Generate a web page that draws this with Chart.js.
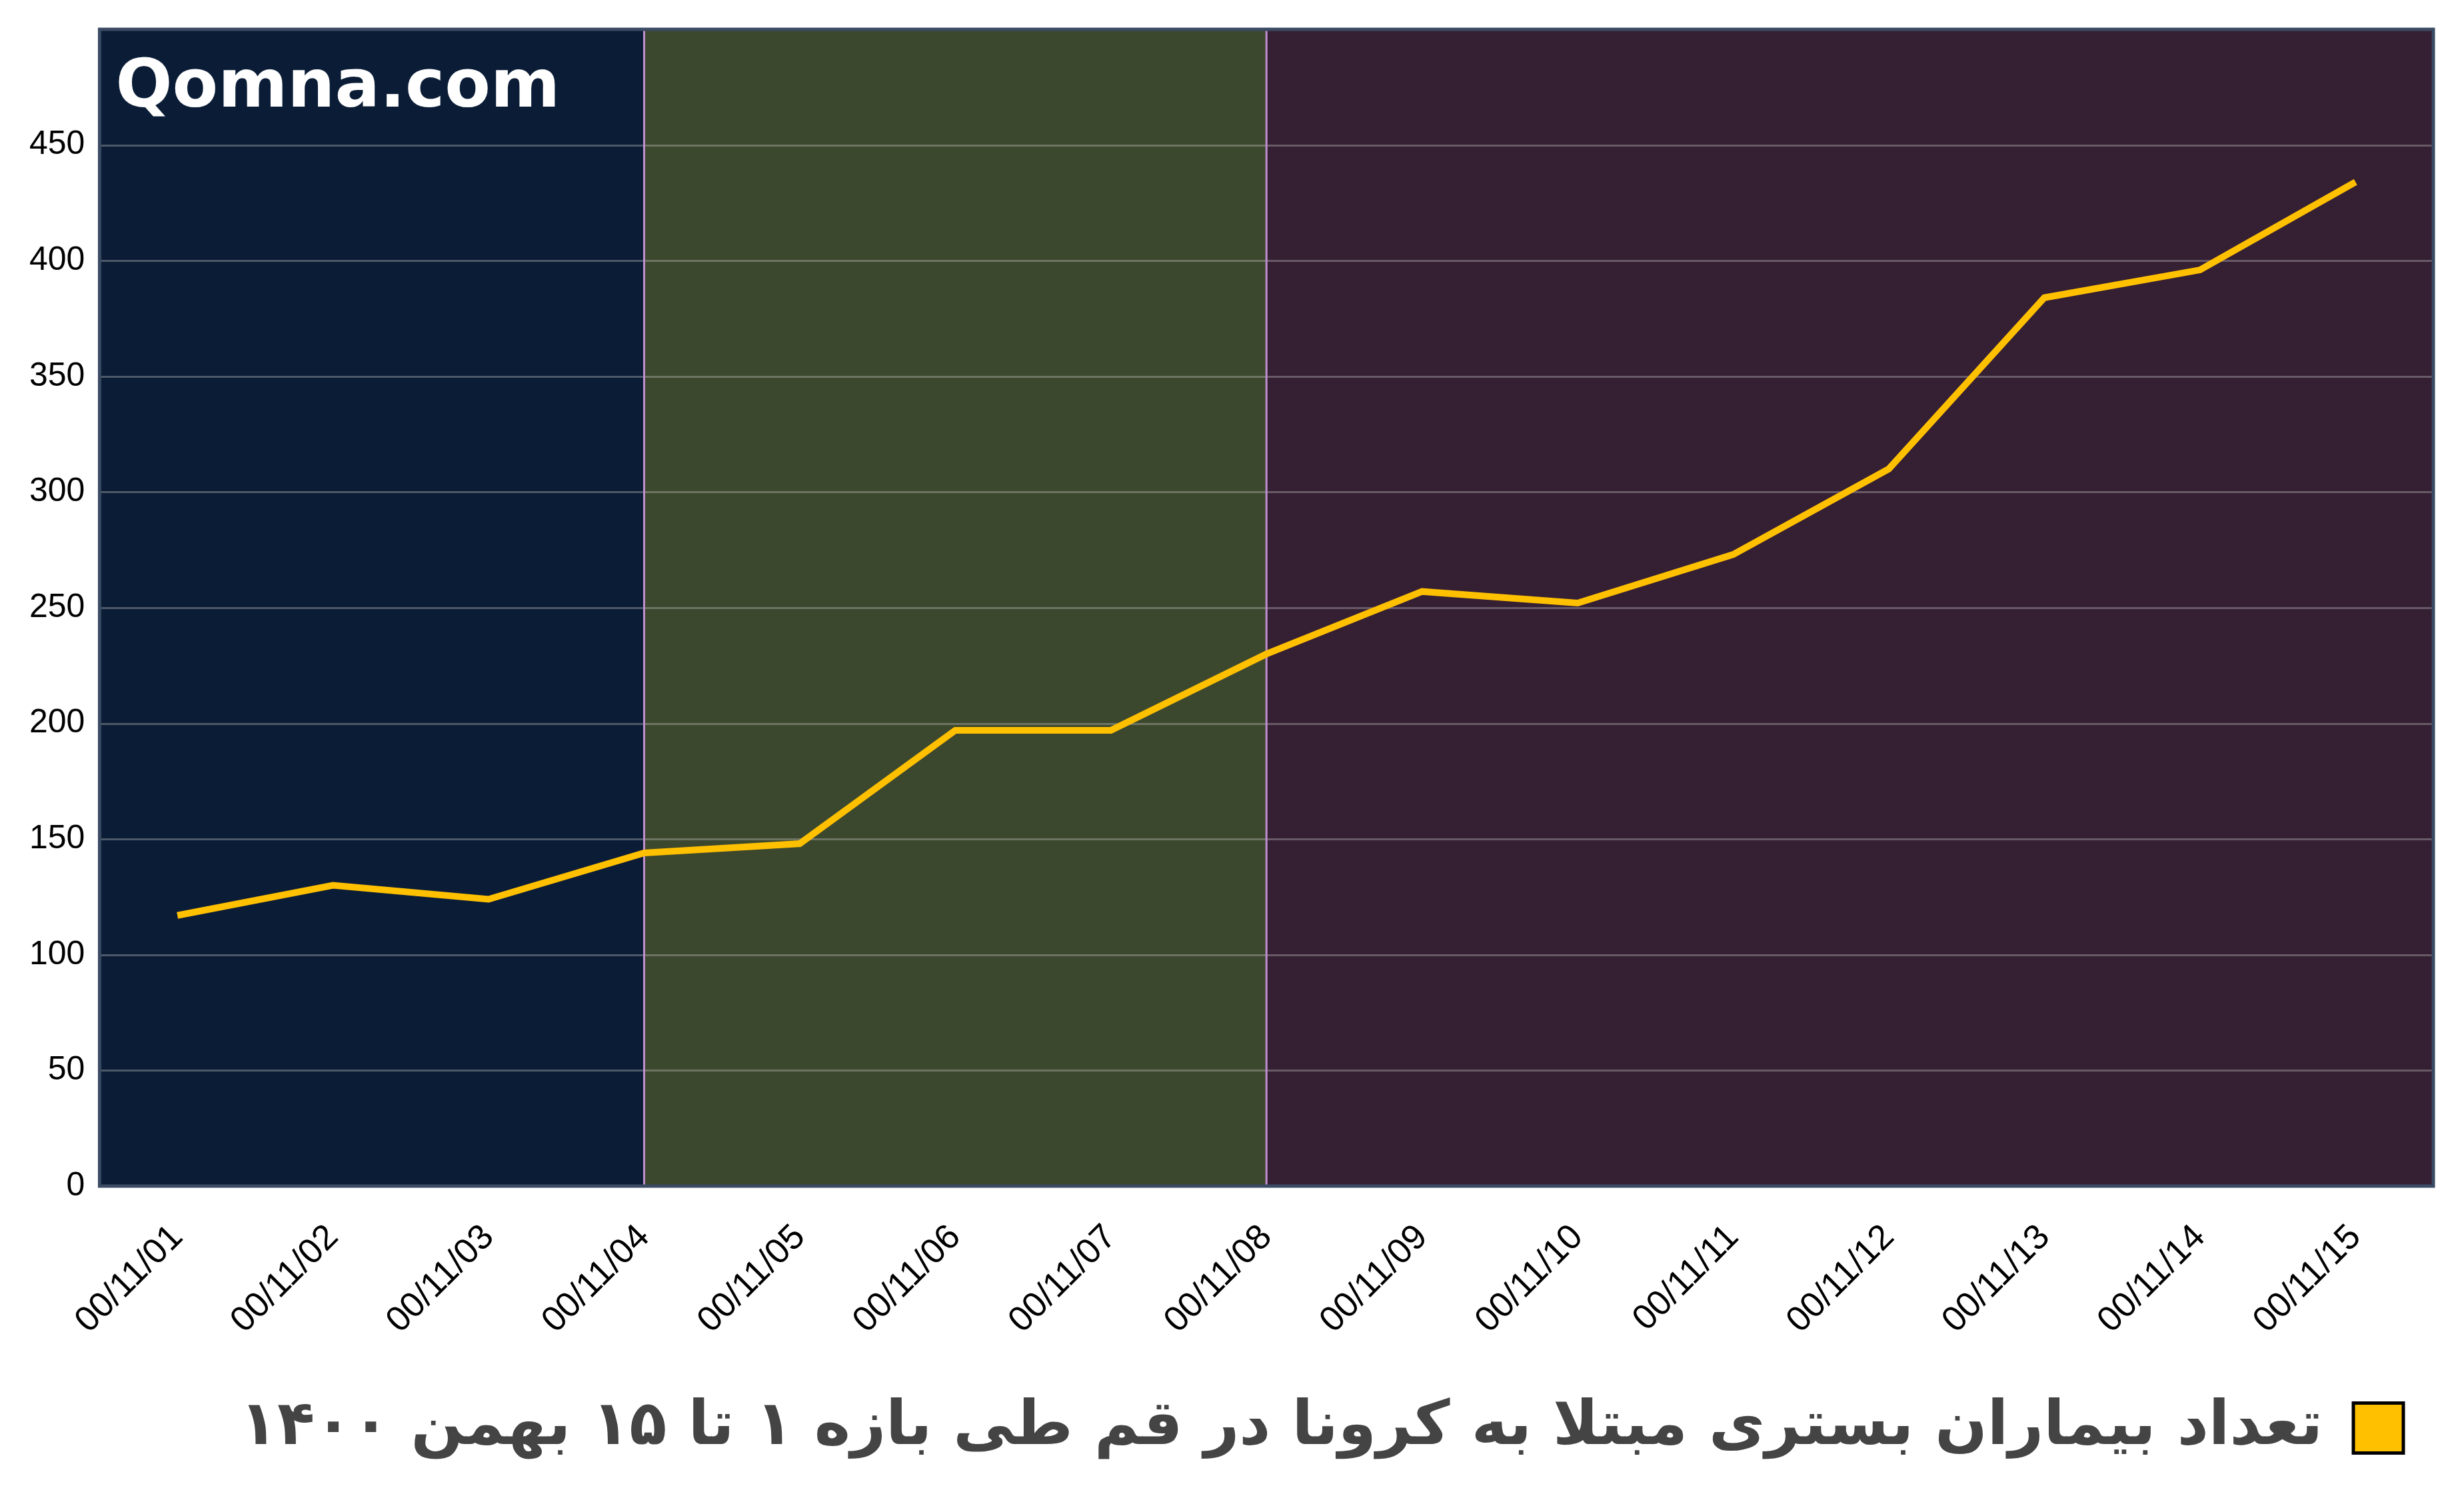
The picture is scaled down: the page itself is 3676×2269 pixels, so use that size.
<!DOCTYPE html>
<html>
<head>
<meta charset="utf-8">
<script src="https://cdn.jsdelivr.net/npm/chart.js@4"></script>
<style>
  html, body { margin: 0; padding: 0; background: #fff; }
  #wrap { width: 3676px; height: 2269px; }
</style>
</head>
<body>
<div id="wrap"><canvas id="chartCanvas" width="3676" height="2269"></canvas></div>
<script>
// data
const dates = ['00/11/01','00/11/02','00/11/03','00/11/04','00/11/05','00/11/06','00/11/07','00/11/08',
               '00/11/09','00/11/10','00/11/11','00/11/12','00/11/13','00/11/14','00/11/15'];
const patients = [117, 130, 124, 144, 148, 197, 197, 230, 257, 252, 273, 310, 384, 396, 434];
const seriesLabel = 'تعداد بیماران بستری مبتلا به کرونا در قم طی بازه ۱ تا ۱۵ بهمن ۱۴۰۰';

// band boundaries (category indexes) and colours
const bandEdges = [3, 7];
const bandColors = ['#0b1d36', '#3c482d', '#352033'];

// _+_+_+_ background bands + watermark _+_+_+_
const bandsPlugin = {
    id: 'bands',
    beforeDatasetsDraw(chart) {
        const { ctx, chartArea: a, scales: { x } } = chart;
        const edges = [a.left, ...bandEdges.map(i => x.getPixelForValue(i)), a.right];
        ctx.save();
        for (let i = 0; i < bandColors.length; i++) {
            ctx.fillStyle = bandColors[i];
            ctx.fillRect(edges[i], a.top, edges[i + 1] - edges[i], a.bottom - a.top);
        }
        // grid lines over the bands
        const y = chart.scales.y;
        ctx.strokeStyle = 'rgba(200,200,200,0.35)';
        ctx.lineWidth = 3;
        y.ticks.forEach(t => {
            const py = Math.round(y.getPixelForValue(t.value)) + 0.5;
            ctx.beginPath(); ctx.moveTo(a.left, py); ctx.lineTo(a.right, py); ctx.stroke();
        });
        // divider lines
        ctx.strokeStyle = '#c28fd0';
        ctx.lineWidth = 3;
        bandEdges.forEach(i => {
            const px = x.getPixelForValue(i);
            ctx.beginPath(); ctx.moveTo(px, a.top); ctx.lineTo(px, a.bottom); ctx.stroke();
        });
        // border
        ctx.strokeStyle = '#3a4a63';
        ctx.lineWidth = 5;
        ctx.strokeRect(a.left, a.top, a.right - a.left, a.bottom - a.top);
        // watermark
        ctx.fillStyle = '#ffffff';
        ctx.font = 'bold 100px "DejaVu Sans"';
        ctx.textBaseline = 'top';
        ctx.fillText('Qomna.com', a.left + 24, a.top + 40);
        ctx.restore();
    }
};

new Chart(document.getElementById('chartCanvas'), {
    type: 'line',
    data: {
        labels: dates,
        datasets: [{
            label: seriesLabel,
            data: patients,
            borderColor: '#ffc000',
            backgroundColor: '#ffc000',
            borderWidth: 10,
            pointRadius: 0,
            tension: 0,
            fill: false
        }]
    },
    options: {
        responsive: false,
        animation: false,
        devicePixelRatio: 1,
        layout: { padding: { left: 30, right: 25, top: 10, bottom: 70 } },
        scales: {
            x: {
                offset: true,
                grid: { display: false },
                border: { display: false },
                ticks: {
                    color: '#000', maxRotation: 45, minRotation: 45, padding: 38,
                    font: { family: '"Liberation Sans", Arial', size: 53 }
                }
            },
            y: {
                min: 0, max: 500,
                grid: { display: false },
                border: { display: false },
                ticks: {
                    stepSize: 50, color: '#000', padding: 14,
                    font: { family: '"Liberation Sans", Arial', size: 50 },
                    callback: v => v === 500 ? '' : v
                }
            }
        },
        plugins: {
            legend: {
                position: 'bottom',
                rtl: true,
                align: 'start',
                labels: {
                    color: '#444',
                    boxWidth: 75, boxHeight: 75,
                    padding: 45,
                    font: { family: '"DejaVu Sans"', size: 92, weight: 'bold' },
                    generateLabels: chart => [{
                        text: seriesLabel, fillStyle: '#ffc000', strokeStyle: '#000',
                        lineWidth: 5, datasetIndex: 0, fontColor: '#444'
                    }]
                }
            },
            tooltip: { enabled: false }
        }
    },
    plugins: [bandsPlugin]
});
</script>
</body>
</html>
